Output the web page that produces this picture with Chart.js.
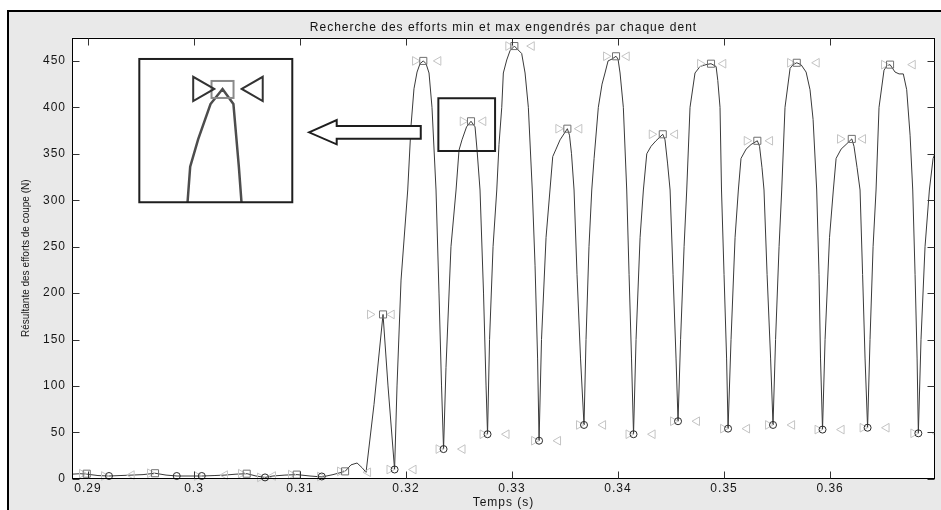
<!DOCTYPE html>
<html>
<head>
<meta charset="utf-8">
<script src="https://cdn.jsdelivr.net/npm/chart.js@4.4.1/dist/chart.umd.min.js"></script>
<style>
html, body { margin: 0; padding: 0; background: #fff; }
canvas { display: block; }
</style>
</head>
<body>
<canvas id="myChart" width="941" height="510"></canvas>
<script>
// courbe de l'effort résultant (temps en s, effort en N)
const curveT = [
  0.28849, 0.28925, 0.28991, 0.29094, 0.29198, 0.29302, 0.29415, 0.29519, 0.29632, 0.29736,
  0.29840, 0.29962, 0.30075, 0.30189, 0.30292, 0.30396, 0.30500, 0.30585, 0.30670, 0.30745,
  0.30858, 0.30972, 0.31094, 0.31208, 0.31311, 0.31425, 0.31481, 0.31538, 0.31585, 0.31623,
  0.31698, 0.31783, 0.31830, 0.31892,
  0.31915, 0.31953, 0.32016, 0.32047, 0.32075, 0.32104, 0.32132, 0.32163, 0.32189, 0.32217, 0.32245, 0.32283, 0.32311, 0.32335, 0.32354,
  0.32377, 0.32424, 0.32472, 0.32500, 0.32528, 0.32571, 0.32613, 0.32651, 0.32670, 0.32698, 0.32731, 0.32755, 0.32769,
  0.32788, 0.32821, 0.32856, 0.32877, 0.32903, 0.32918, 0.32950, 0.32981, 0.33022, 0.33056, 0.33091, 0.33123, 0.33154, 0.33191, 0.33217, 0.33241, 0.33255,
  0.33278, 0.33321, 0.33358, 0.33384, 0.33415, 0.33453, 0.33522, 0.33542, 0.33561, 0.33585, 0.33613, 0.33646, 0.33679,
  0.33698, 0.33726, 0.33752, 0.33774, 0.33814, 0.33849, 0.33877, 0.33906, 0.33943, 0.33981, 0.34000, 0.34019, 0.34050, 0.34082, 0.34104, 0.34127, 0.34146,
  0.34170, 0.34208, 0.34239, 0.34271, 0.34311, 0.34358, 0.34422, 0.34443, 0.34467, 0.34491, 0.34519, 0.34547, 0.34566,
  0.34590, 0.34623, 0.34648, 0.34679, 0.34726, 0.34774, 0.34830, 0.34877, 0.34925, 0.34941, 0.34962, 0.34976, 0.35000, 0.35024, 0.35038,
  0.35066, 0.35104, 0.35135, 0.35160, 0.35208, 0.35255, 0.35314, 0.35335, 0.35358, 0.35377, 0.35406, 0.35439, 0.35462,
  0.35486, 0.35519, 0.35544, 0.35575, 0.35623, 0.35651, 0.35686, 0.35726, 0.35774, 0.35811, 0.35840, 0.35874, 0.35896, 0.35910, 0.35929,
  0.35953, 0.35995, 0.36031, 0.36057, 0.36104, 0.36151, 0.36205, 0.36226, 0.36255, 0.36283, 0.36307, 0.36330, 0.36354,
  0.36377, 0.36406, 0.36434, 0.36462, 0.36509, 0.36538, 0.36566, 0.36613, 0.36651, 0.36691, 0.36723, 0.36755, 0.36780, 0.36802, 0.36821, 0.36833,
  0.36858, 0.36896, 0.36937, 0.36972, 0.37009
];
const curveF = [
  5, 5.5, 5, 3.5, 3, 3.5, 4, 4.5, 6, 4,
  3, 3, 3, 3.5, 4, 5, 5.5, 3, 1.5, 3,
  4, 4.5, 3, 2, 4.5, 8, 15, 17, 12, 7,
  80, 177, 100, 10,
  100, 214, 311, 380, 420, 438, 447, 450, 447, 437, 400, 311, 200, 100, 32,
  120, 250, 311, 354, 365, 379, 385, 379, 354, 311, 200, 100, 48,
  150, 250, 311, 360, 400, 437, 451, 461, 466, 462, 458, 437, 400, 311, 230, 130, 41,
  150, 260, 311, 347, 355, 365, 377, 370, 350, 311, 220, 130, 58,
  150, 250, 311, 345, 400, 425, 437, 450, 452, 455, 452, 437, 400, 311, 220, 130, 48,
  150, 260, 311, 350, 358, 364, 371, 365, 340, 311, 220, 130, 62,
  150, 250, 311, 400, 437, 444, 446, 447, 444, 429, 400, 311, 220, 130, 54,
  150, 260, 311, 345, 355, 360, 364, 358, 335, 311, 220, 130, 58,
  150, 250, 311, 400, 442, 446, 448, 446, 438, 419, 387, 311, 220, 130, 53,
  150, 260, 311, 345, 355, 360, 366, 358, 335, 311, 220, 130, 55,
  150, 250, 311, 400, 440, 445, 446, 438, 436, 436, 419, 370, 311, 220, 130, 49,
  150, 250, 311, 345, 356
];

// maxima (carrés) et minima (cercles) par dent
const maxT = [0.28988, 0.29632, 0.30497, 0.30969, 0.31425, 0.31783, 0.32163, 0.32613, 0.33022, 0.33522, 0.33981, 0.34422, 0.34877, 0.35314, 0.35686, 0.36205, 0.36566];
const maxF = [5.5, 6, 5.5, 4.5, 8, 177, 450, 385, 466, 377, 455, 371, 447, 364, 448, 366, 446];
const minT = [0.29198, 0.29837, 0.30073, 0.30670, 0.31205, 0.31892, 0.32354, 0.32769, 0.33255, 0.33679, 0.34146, 0.34566, 0.35038, 0.35462, 0.35929, 0.36354, 0.36833];
const minF = [3, 3, 3, 1.5, 2.5, 10, 32, 48, 41, 58, 48, 62, 54, 58, 53, 55, 49];

// bornes des fenêtres de recherche (triangles)
const winStartT = [0.28943, 0.29151, 0.29585, 0.30028, 0.30443, 0.30623, 0.30915, 0.31189, 0.31377,
  0.31660, 0.32085, 0.32535, 0.32965, 0.33437, 0.33887, 0.34318, 0.34774, 0.35214, 0.35623, 0.36094, 0.36509,
  0.31844, 0.32307, 0.32722, 0.33208, 0.33632, 0.34099, 0.34519, 0.34991, 0.35415, 0.35882, 0.36307, 0.36786];
const winStartF = [5.5, 3, 6, 3, 5.5, 1.5, 4.5, 2.5, 8,
  177, 450, 385, 466, 377, 455, 371, 447, 364, 448, 366, 446,
  10, 32, 48, 41, 58, 48, 62, 54, 58, 53, 55, 49];
const winEndT = [0.29412, 0.30292, 0.30745, 0.31642,
  0.31865, 0.32305, 0.32729, 0.33186, 0.33635, 0.34082, 0.34538, 0.34993, 0.35434, 0.35874, 0.36311, 0.36780,
  0.32071, 0.32533, 0.32948, 0.33434, 0.33859, 0.34326, 0.34745, 0.35217, 0.35642, 0.36109, 0.36533, 0.37012];
const winEndF = [4, 4, 3, 7,
  177, 450, 385, 466, 377, 455, 371, 447, 364, 448, 366, 446,
  10, 32, 48, 41, 58, 48, 62, 54, 58, 53, 55, 49];

const xTicks = [0.29, 0.30, 0.31, 0.32, 0.33, 0.34, 0.35, 0.36];
const yTicks = [0, 50, 100, 150, 200, 250, 300, 350, 400, 450];

// annotations : zoom sur le 3e pic (coordonnées en temps / effort)
const zoomPeak = 7;
const zoomBox = [0.32305, 0.32840, 409.8, 353.0];
const insetBox = [0.29484, 0.30927, 452.1, 297.8];
const insetAnchor = [0.30269, 419.8];
const insetMag = 2.7;
const arrowT = [0.31085, 0.31346, 0.31346, 0.32139, 0.32139, 0.31346, 0.31346];
const arrowF = [373.1, 386.4, 379.9, 379.9, 366.2, 366.2, 360.2];

const pts = (ts, fs) => ts.map((t, i) => ({x: t, y: fs[i]}));

function triPath(ctx, px, py, r, dir) {
  ctx.beginPath();
  ctx.moveTo(px + dir * r, py);
  ctx.lineTo(px - dir * r * 0.5, py - r * 0.866);
  ctx.lineTo(px - dir * r * 0.5, py + r * 0.866);
  ctx.closePath();
}

function drawAnnotations(chart) {
  const {ctx, scales: {x, y}} = chart;
  ctx.save();

  // encadré agrandi
  const L = x.getPixelForValue(insetBox[0]), R = x.getPixelForValue(insetBox[1]);
  const T = y.getPixelForValue(insetBox[2]), B = y.getPixelForValue(insetBox[3]);
  const ax = x.getPixelForValue(insetAnchor[0]), ay = y.getPixelForValue(insetAnchor[1]);
  const cx = x.getPixelForValue(maxT[zoomPeak]), cy = y.getPixelForValue(maxF[zoomPeak]);
  const map = (t, f) => [ax + (x.getPixelForValue(t) - cx) * insetMag, ay + (y.getPixelForValue(f) - cy) * insetMag];

  ctx.fillStyle = '#fff';
  ctx.fillRect(L, T, R - L, B - T);
  ctx.save();
  ctx.beginPath();
  ctx.rect(L, T, R - L, B - T);
  ctx.clip();
  ctx.strokeStyle = '#4d4d4d';
  ctx.lineWidth = 2.5;
  ctx.beginPath();
  curveT.forEach((t, i) => {
    const [px, py] = map(t, curveF[i]);
    if (i === 0) ctx.moveTo(px, py); else ctx.lineTo(px, py);
  });
  ctx.stroke();
  ctx.lineWidth = 2;
  ctx.strokeStyle = '#8a8a8a';
  maxT.forEach((t, i) => {
    const [px, py] = map(t, maxF[i]);
    ctx.strokeRect(px - 11, py - 8, 22, 17);
  });
  ctx.strokeStyle = '#333';
  winStartT.forEach((t, i) => {
    const [px, py] = map(t, winStartF[i]);
    triPath(ctx, px, py, 14, 1); ctx.stroke();
  });
  winEndT.forEach((t, i) => {
    const [px, py] = map(t, winEndF[i]);
    triPath(ctx, px, py, 14, -1); ctx.stroke();
  });
  ctx.restore();
  ctx.strokeStyle = '#1e1e1e';
  ctx.lineWidth = 2;
  ctx.strokeRect(L, T, R - L, B - T);

  // cadre de la zone agrandie
  const zl = x.getPixelForValue(zoomBox[0]), zr = x.getPixelForValue(zoomBox[1]);
  const zt = y.getPixelForValue(zoomBox[2]), zb = y.getPixelForValue(zoomBox[3]);
  ctx.strokeRect(zl, zt, zr - zl, zb - zt);

  // flèche
  ctx.beginPath();
  arrowT.forEach((t, i) => {
    const px = x.getPixelForValue(t), py = y.getPixelForValue(arrowF[i]);
    if (i === 0) ctx.moveTo(px, py); else ctx.lineTo(px, py);
  });
  ctx.closePath();
  ctx.fillStyle = '#fff';
  ctx.fill();
  ctx.stroke();
  ctx.restore();
}

// fond gris de la figure, cadre et graduations vers l'intérieur
const matlabLook = {
  id: 'matlabLook',
  afterLayout(chart) {
    const t = chart.titleBlock, a = chart.chartArea;
    if (t) { t.left = a.left; t.right = a.right; t.width = a.right - a.left; }
  },
  beforeDraw(chart) {
    const {ctx, chartArea: a, width, height} = chart;
    ctx.save();
    ctx.fillStyle = '#fff';
    ctx.fillRect(0, 0, width, height);
    ctx.fillStyle = '#e9e9e9';
    ctx.fillRect(8, 11, width - 8, height - 11);
    ctx.fillStyle = '#000';
    ctx.fillRect(7, 10, 2, height - 10);
    ctx.fillRect(7, 10, width - 7, 2);
    ctx.fillStyle = '#fff';
    ctx.fillRect(a.left, a.top, a.right - a.left, a.bottom - a.top);
    ctx.restore();
    ctx.letterSpacing = '1px';
  },
  afterDatasetsDraw(chart) {
    drawAnnotations(chart);
    chart.ctx.letterSpacing = '0px';
  },
  afterDraw(chart) {
    const {ctx, chartArea: a, scales: {x, y}} = chart;
    const l = Math.round(a.left) + 0.5, r = Math.round(a.right) - 0.5;
    const t = Math.round(a.top) + 0.5, b = Math.round(a.bottom) - 0.5;
    ctx.save();
    ctx.strokeStyle = '#000';
    ctx.lineWidth = 1;
    ctx.strokeRect(l, t, r - l, b - t);
    ctx.strokeStyle = '#333';
    ctx.beginPath();
    x.ticks.forEach(tk => {
      const px = Math.round(x.getPixelForValue(tk.value)) + 0.5;
      ctx.moveTo(px, b); ctx.lineTo(px, b - 7);
      ctx.moveTo(px, t); ctx.lineTo(px, t + 7);
    });
    y.ticks.forEach(tk => {
      const py = Math.round(y.getPixelForValue(tk.value)) + 0.5;
      ctx.moveTo(l, py); ctx.lineTo(l + 7, py);
      ctx.moveTo(r, py); ctx.lineTo(r - 7, py);
    });
    ctx.stroke();
    ctx.restore();
  }
};

Chart.defaults.font.family = "'Liberation Sans', Arial, sans-serif";
Chart.defaults.font.size = 12;
Chart.defaults.color = '#161616';

let config = {
  type: 'scatter',
  data: {
    datasets: [{
      data: pts(minT, minF),
      pointStyle: 'circle',
      pointRadius: 3.5,
      borderColor: '#2b2b2b',
      backgroundColor: 'rgba(0,0,0,0)',
      borderWidth: 1,
      clip: {left: 0, top: 0, right: 0, bottom: 6}
    }, {
      data: pts(maxT, maxF),
      pointStyle: 'rect',
      pointRadius: 5,
      borderColor: '#707070',
      backgroundColor: 'rgba(0,0,0,0)',
      borderWidth: 1,
      clip: {left: 0, top: 0, right: 0, bottom: 6}
    }, {
      data: pts(winStartT, winStartF),
      pointStyle: 'triangle',
      pointRotation: 90,
      pointRadius: 5,
      borderColor: '#c4c4c4',
      backgroundColor: 'rgba(0,0,0,0)',
      borderWidth: 1,
      clip: {left: 0, top: 0, right: 0, bottom: 6}
    }, {
      data: pts(winEndT, winEndF),
      pointStyle: 'triangle',
      pointRotation: 270,
      pointRadius: 5,
      borderColor: '#c4c4c4',
      backgroundColor: 'rgba(0,0,0,0)',
      borderWidth: 1,
      clip: {left: 0, top: 0, right: 0, bottom: 6}
    }, {
      data: pts(curveT, curveF),
      showLine: true,
      pointRadius: 0,
      borderColor: '#3a3a3a',
      borderWidth: 1,
      tension: 0
    }]
  },
  options: {
    responsive: false,
    animation: false,
    devicePixelRatio: 1,
    events: [],
    layout: { padding: { top: 13, right: 5, bottom: 0, left: 0 } },
    plugins: {
      legend: { display: false },
      tooltip: { enabled: false },
      title: {
        display: true,
        text: 'Recherche des efforts min et max engendrés par chaque dent',
        font: { size: 12, weight: 'normal' },
        color: '#111',
        padding: { top: 7, bottom: 3.3 }
      }
    },
    scales: {
      x: {
        type: 'linear',
        min: 0.28849,
        max: 0.3699,
        grid: { display: false, drawTicks: false },
        border: { display: false },
        afterBuildTicks: s => { s.ticks = xTicks.map(v => ({value: v})); },
        afterFit: s => { s.height = 31.2; },
        ticks: {
          autoSkip: false,
          maxRotation: 0,
          padding: 3,
          callback: v => String(Number(v.toFixed(2)))
        },
        title: { display: true, text: 'Temps (s)', font: { size: 12 }, padding: { top: 0, bottom: 0 } }
      },
      y: {
        min: 0,
        max: 475,
        grid: { display: false, drawTicks: false, z: 1 },
        border: { display: false },
        afterBuildTicks: s => { s.ticks = yTicks.map(v => ({value: v})); },
        afterFit: s => { s.width = 72; },
        ticks: { padding: 6 },
        title: { display: true, text: 'Résultante des efforts de coupe (N)', font: { size: 10 }, padding: { top: 20, bottom: 0 } }
      }
    }
  },
  plugins: [matlabLook]
};

window.addEventListener("load", function() {
  let ctx = document.getElementById("myChart").getContext("2d");
  myChart = new Chart(ctx, config);
}, false);
</script>
</body>
</html>
